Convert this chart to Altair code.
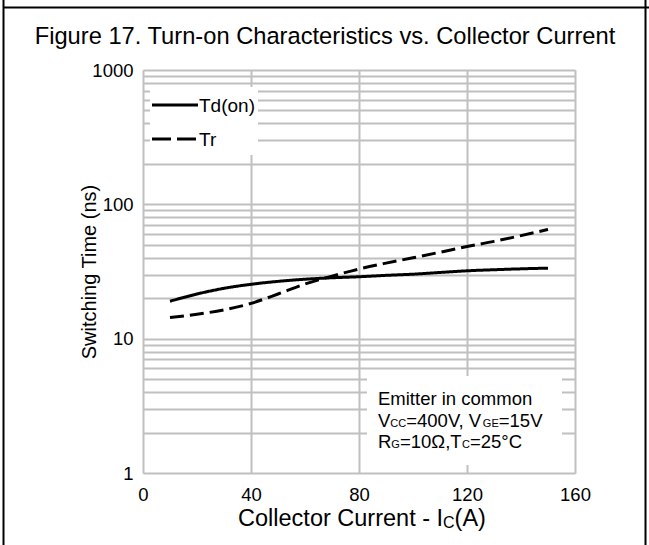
import altair as alt
import pandas as pd

# ---------------- data ----------------
current_a = [10, 20, 30, 40, 50, 60, 70, 80, 90, 100, 110, 120, 130, 140, 150]
td_on_ns = [19.0, 21.5, 23.7, 25.4, 26.7, 27.7, 28.4, 28.9, 29.6, 30.2, 31.1, 32.0, 32.6, 33.1, 33.5]
tr_ns = [14.4, 15.2, 16.4, 18.3, 21.5, 25.5, 29.2, 33.0, 36.5, 40.0, 44.0, 48.5, 53.0, 58.5, 65.0]
series_names = ["Td(on)", "Tr"]
x_tick_values = [0, 40, 80, 120, 160]
y_tick_values = [1, 2, 3, 4, 5, 6, 7, 8, 9,
                 10, 20, 30, 40, 50, 60, 70, 80, 90,
                 100, 200, 300, 400, 500, 600, 700, 800, 900, 1000]
y_label_values = [1, 10, 100, 1000]

title_text = "Figure 17. Turn-on Characteristics vs. Collector Current"
y_title_text = "Switching Time (ns)"
note_line1 = "Emitter in common"

df = pd.DataFrame({
    "current": current_a * 2,
    "time": td_on_ns + tr_ns,
    "series": [series_names[0]] * len(current_a) + [series_names[1]] * len(current_a),
})

FONT = "Liberation Sans"
GRID = "#c0c0c0"
W_PLOT, H_PLOT = 432, 403

# Arial / Liberation Sans advance widths (per 1000 em) used to lay out sub-scripted text
ADV = {' ': 278, ',': 278, '-': 333, '(': 333, ')': 333, '=': 584, '°': 400, 'Ω': 768,
       '0': 556, '1': 556, '2': 556, '4': 556, '5': 556,
       'A': 667, 'C': 722, 'E': 667, 'G': 778, 'I': 278, 'R': 722, 'T': 611, 'V': 667,
       'c': 500, 'e': 556, 'l': 222, 'n': 556, 'o': 556, 'r': 333, 't': 278, 'u': 556}


def tw(s, size):
    return sum(ADV.get(ch, 556) for ch in s) * size / 1000.0


def one():
    return alt.Data(values=[{"k": 0}])


def text(s, x, y, size, align="left", baseline="alphabetic"):
    return alt.Chart(one()).mark_text(
        text=s, font=FONT, fontSize=size, color="black", align=align, baseline=baseline
    ).encode(x=alt.value(x), y=alt.value(y))


def rich(segments, x0, y):
    """segments: list of (string, size, dy)"""
    layers = []
    x = x0
    for s, size, dy in segments:
        layers.append(text(s, x, y + dy, size))
        x += tw(s, size)
    return layers


def rich_width(segments):
    return sum(tw(s, size) for s, size, _ in segments)


def rule(x, x2, y, y2, width=2, color="black", dash=None):
    kw = dict(color=color, strokeWidth=width)
    if dash:
        kw["strokeDash"] = dash
    return alt.Chart(one()).mark_rule(**kw).encode(
        x=alt.value(x), x2=alt.value(x2), y=alt.value(y), y2=alt.value(y2))


def box(x, x2, y, y2):
    return alt.Chart(one()).mark_rect(color="white").encode(
        x=alt.value(x), x2=alt.value(x2), y=alt.value(y), y2=alt.value(y2))


# ---------------- main curves ----------------
label_expr = ("indexof([" + ",".join(str(v) for v in y_label_values)
              + "], datum.value) >= 0 ? format(datum.value, 'd') : ''")

lines = alt.Chart(df).mark_line(color="black", strokeWidth=3, interpolate="monotone").encode(
    x=alt.X("current:Q",
            scale=alt.Scale(domain=[0, 160], nice=False, zero=False),
            axis=alt.Axis(values=x_tick_values, title=None, grid=True, gridColor=GRID, gridWidth=2,
                          domain=False, ticks=False, tickSize=0, labelPadding=12, labelFlush=False,
                          labelFont=FONT, labelFontSize=18.5, labelColor="black", format="d")),
    y=alt.Y("time:Q",
            scale=alt.Scale(type="log", domain=[1, 1000], nice=False),
            axis=alt.Axis(values=y_tick_values, labelExpr=label_expr, title=y_title_text,
                          grid=True, gridColor=GRID, gridWidth=2, domain=False, ticks=False, tickSize=0,
                          labelPadding=10, labelFlush=False, labelOverlap=False,
                          labelFont=FONT, labelFontSize=18.5, labelColor="black",
                          titleFont=FONT, titleFontSize=20, titleFontWeight="normal",
                          titleColor="black", titleX=-54, titleY=H_PLOT / 2,
                          titleAngle=270, titleAlign="center", titleBaseline="middle")),
    strokeDash=alt.StrokeDash("series:N",
                              scale=alt.Scale(domain=series_names, range=[[1, 0], [14, 6]]),
                              legend=None),
)

layers = []

# legend (top-left, white background)
layers.append(box(7, 115, 17, 85))
layers.append(rule(9, 55, 35, 35, width=3))
layers.append(rule(9, 55, 69, 69, width=3, dash=[19, 6]))
layers.append(text(series_names[0], 56, 36, 19, baseline="middle"))
layers.append(text(series_names[1], 56, 70, 19, baseline="middle"))

# condition note (bottom-right, white background)
layers.append(box(224, 419, 306, 395))
NF, SF = 18.5, 11
nx = 235
layers.append(text(note_line1, nx, 335, NF))
layers += rich([("V", NF, 0), ("CC", SF, 0), ("=400V, V", NF, 0), ("GE", SF, 0), ("=15V", NF, 0)], nx, 356.7)
layers += rich([("R", NF, 0), ("G", SF, 0), ("=10Ω,T", NF, 0), ("C", SF, 0), ("=25°C", NF, 0)], nx, 378.3)

# x-axis title with subscript
xt = [("Collector Current - I", 23.5, 0), ("C", 16, 2), ("(A)", 23.5, 0)]
layers += rich(xt, 219 - rich_width(xt) / 2, 456)

# chart title
layers.append(text(title_text, 182, -33, 23.7, align="center", baseline="middle"))

# outer frame
layers.append(rule(-139.5, -139.5, -75, 480))
layers.append(rule(-140, 510, -62.5, -62.5))
layers.append(rule(502.5, 502.5, -75, 480))

chart = alt.layer(lines, *layers).properties(
    width=W_PLOT, height=H_PLOT,
    padding={"left": 143, "top": 70, "right": 74, "bottom": 72},
    autosize=alt.AutoSizeParams(type="none"),
).configure_view(stroke=None).configure(background="white")

chart.save("out.html", embed_options={"renderer": "svg", "actions": False})
